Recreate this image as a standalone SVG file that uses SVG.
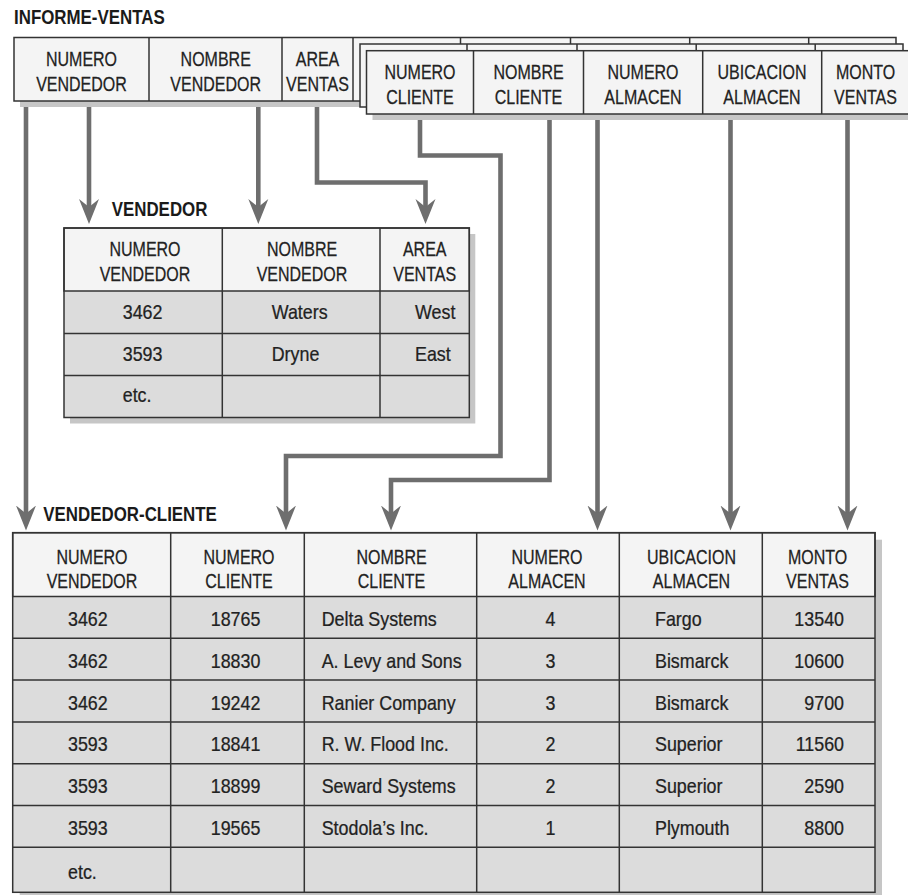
<svg xmlns="http://www.w3.org/2000/svg" width="908" height="895" viewBox="0 0 908 895">
<defs>
<style>
.bg{fill:#ffffff}
.sh{fill:#c6c6c6}
.hf{fill:#f4f4f4;stroke:#333;stroke-width:1.5}
.df{fill:#dcdcdc}
.ln{stroke:#333;stroke-width:1.5;fill:none}
.fr{fill:none;stroke:#333;stroke-width:1.5}
.h{font-family:"Liberation Sans",Arial,sans-serif;font-size:20px;fill:#222;stroke:#222;stroke-width:0.25;text-anchor:middle}
.d{font-family:"Liberation Sans",Arial,sans-serif;font-size:20px;fill:#222;stroke:#222;stroke-width:0.25}
.de{font-family:"Liberation Sans",Arial,sans-serif;font-size:20px;fill:#222;stroke:#222;stroke-width:0.25;text-anchor:end}
.t{font-family:"Liberation Sans",Arial,sans-serif;font-size:20px;font-weight:bold;fill:#1a1a1a}
.cn{fill:none;stroke:#6e6e6e;stroke-width:4.6;stroke-linejoin:miter}
</style>
<marker id="ah" markerUnits="userSpaceOnUse" markerWidth="26" markerHeight="22" viewBox="0 0 26 22" refX="11" refY="11" orient="auto">
<path d="M25,11 L0,1 L8,11 L0,21 Z" fill="#6e6e6e"/>
</marker>
</defs>
<rect class="bg" x="0" y="0" width="908" height="895"/>

<g id="title-informe"><text class="t" transform="translate(14,24) scale(0.845,1)">INFORME-VENTAS</text></g>

<g id="informe-card1">
<rect class="sh" x="20" y="43.5" width="882" height="63.5"/>
<rect class="hf" x="14" y="37.5" width="882" height="63.5"/>
<path class="ln" d="M149,37.5V101M282,37.5V101M353,37.5V101M460.5,37.5V101M570.5,37.5V101M689.7,37.5V101M808.7,37.5V101"/>
<text class="h" transform="translate(81.5,65.7) scale(0.8,1)"><tspan x="0">NUMERO</tspan><tspan x="0" dy="25.6">VENDEDOR</tspan></text>
<text class="h" transform="translate(215.7,65.7) scale(0.8,1)"><tspan x="0">NOMBRE</tspan><tspan x="0" dy="25.6">VENDEDOR</tspan></text>
<text class="h" transform="translate(317.5,65.7) scale(0.8,1)"><tspan x="0">AREA</tspan><tspan x="0" dy="25.6">VENTAS</tspan></text>
</g>

<g id="informe-card2">
<rect class="sh" x="366" y="50" width="543" height="63"/>
<rect class="hf" x="360" y="44" width="543" height="63"/>
<path class="ln" d="M467,44V107M577,44V107M696.2,44V107M815.2,44V107"/>
</g>

<g id="informe-card3">
<rect class="sh" x="372.5" y="56.7" width="542.5" height="63.3"/>
<rect class="hf" x="366.5" y="50.7" width="542.5" height="63.3"/>
<path class="ln" d="M473.5,50.7V114M583.5,50.7V114M702.7,50.7V114M821.7,50.7V114"/>
<text class="h" transform="translate(420,79) scale(0.8,1)"><tspan x="0">NUMERO</tspan><tspan x="0" dy="25.3">CLIENTE</tspan></text>
<text class="h" transform="translate(528.5,79) scale(0.8,1)"><tspan x="0">NOMBRE</tspan><tspan x="0" dy="25.3">CLIENTE</tspan></text>
<text class="h" transform="translate(643,79) scale(0.8,1)"><tspan x="0">NUMERO</tspan><tspan x="0" dy="25.3">ALMACEN</tspan></text>
<text class="h" transform="translate(762,79) scale(0.8,1)"><tspan x="0">UBICACION</tspan><tspan x="0" dy="25.3">ALMACEN</tspan></text>
<text class="h" transform="translate(865.5,79) scale(0.8,1)"><tspan x="0">MONTO</tspan><tspan x="0" dy="25.3">VENTAS</tspan></text>
</g>

<g id="table-vendedor">
<text class="t" transform="translate(111.7,216) scale(0.845,1)">VENDEDOR</text>
<rect class="sh" x="70" y="234" width="405.3" height="189.5"/>
<rect class="df" x="64" y="228" width="405.3" height="189.5"/>
<rect class="hf" x="64" y="228" width="405.3" height="63"/>
<path class="ln" d="M64,333.5H469.3M64,375.5H469.3M222.3,228V417.5M380,228V417.5"/>
<rect class="fr" x="64" y="228" width="405.3" height="189.5"/>
<text class="h" transform="translate(145,255.7) scale(0.8,1)"><tspan x="0">NUMERO</tspan><tspan x="0" dy="25.3">VENDEDOR</tspan></text>
<text class="h" transform="translate(302,255.7) scale(0.8,1)"><tspan x="0">NOMBRE</tspan><tspan x="0" dy="25.3">VENDEDOR</tspan></text>
<text class="h" transform="translate(424.7,255.7) scale(0.8,1)"><tspan x="0">AREA</tspan><tspan x="0" dy="25.3">VENTAS</tspan></text>
<text class="d" transform="translate(122.7,318.5) scale(0.893,1)">3462</text>
<text class="d" transform="translate(271.7,318.5) scale(0.893,1)">Waters</text>
<text class="d" transform="translate(415,318.5) scale(0.893,1)">West</text>
<text class="d" transform="translate(122.7,360.7) scale(0.893,1)">3593</text>
<text class="d" transform="translate(271.7,360.7) scale(0.893,1)">Dryne</text>
<text class="d" transform="translate(415,360.7) scale(0.893,1)">East</text>
<text class="d" transform="translate(122.7,401.7) scale(0.893,1)">etc.</text>
</g>

<g id="table-vendedor-cliente">
<text class="t" transform="translate(43.3,521) scale(0.845,1)">VENDEDOR-CLIENTE</text>
<rect class="sh" x="19.7" y="539.7" width="862.3" height="359.6"/>
<rect class="df" x="12.7" y="532.7" width="862.3" height="359.6"/>
<rect class="hf" x="12.7" y="532.7" width="862.3" height="63.8"/>
<path class="ln" d="M12.7,638.3H875M12.7,680.1H875M12.7,721.9H875M12.7,763.7H875M12.7,805.5H875M12.7,847.3H875M170.7,532.7V892.3M304.3,532.7V892.3M476.7,532.7V892.3M619.3,532.7V892.3M762.3,532.7V892.3"/>
<rect class="fr" x="12.7" y="532.7" width="862.3" height="359.6"/>
<text class="h" transform="translate(92,564) scale(0.8,1)"><tspan x="0">NUMERO</tspan><tspan x="0" dy="23.7">VENDEDOR</tspan></text>
<text class="h" transform="translate(239,564) scale(0.8,1)"><tspan x="0">NUMERO</tspan><tspan x="0" dy="23.7">CLIENTE</tspan></text>
<text class="h" transform="translate(391.5,564) scale(0.8,1)"><tspan x="0">NOMBRE</tspan><tspan x="0" dy="23.7">CLIENTE</tspan></text>
<text class="h" transform="translate(547,564) scale(0.8,1)"><tspan x="0">NUMERO</tspan><tspan x="0" dy="23.7">ALMACEN</tspan></text>
<text class="h" transform="translate(691.5,564) scale(0.8,1)"><tspan x="0">UBICACION</tspan><tspan x="0" dy="23.7">ALMACEN</tspan></text>
<text class="h" transform="translate(817.5,564) scale(0.8,1)"><tspan x="0">MONTO</tspan><tspan x="0" dy="23.7">VENTAS</tspan></text>

<text class="d" transform="translate(68,626) scale(0.893,1)">3462</text>
<text class="d" transform="translate(210.7,626) scale(0.893,1)">18765</text>
<text class="d" transform="translate(321.7,626) scale(0.893,1)">Delta Systems</text>
<text class="d" transform="translate(545.5,626) scale(0.893,1)">4</text>
<text class="d" transform="translate(655,626) scale(0.893,1)">Fargo</text>
<text class="de" transform="translate(844,626) scale(0.893,1)">13540</text>

<text class="d" transform="translate(68,667.8) scale(0.893,1)">3462</text>
<text class="d" transform="translate(210.7,667.8) scale(0.893,1)">18830</text>
<text class="d" transform="translate(321.7,667.8) scale(0.893,1)">A. Levy and Sons</text>
<text class="d" transform="translate(545.5,667.8) scale(0.893,1)">3</text>
<text class="d" transform="translate(655,667.8) scale(0.893,1)">Bismarck</text>
<text class="de" transform="translate(844,667.8) scale(0.893,1)">10600</text>

<text class="d" transform="translate(68,709.6) scale(0.893,1)">3462</text>
<text class="d" transform="translate(210.7,709.6) scale(0.893,1)">19242</text>
<text class="d" transform="translate(321.7,709.6) scale(0.893,1)">Ranier Company</text>
<text class="d" transform="translate(545.5,709.6) scale(0.893,1)">3</text>
<text class="d" transform="translate(655,709.6) scale(0.893,1)">Bismarck</text>
<text class="de" transform="translate(844,709.6) scale(0.893,1)">9700</text>

<text class="d" transform="translate(68,751.4) scale(0.893,1)">3593</text>
<text class="d" transform="translate(210.7,751.4) scale(0.893,1)">18841</text>
<text class="d" transform="translate(321.7,751.4) scale(0.893,1)">R. W. Flood Inc.</text>
<text class="d" transform="translate(545.5,751.4) scale(0.893,1)">2</text>
<text class="d" transform="translate(655,751.4) scale(0.893,1)">Superior</text>
<text class="de" transform="translate(844,751.4) scale(0.893,1)">11560</text>

<text class="d" transform="translate(68,793.2) scale(0.893,1)">3593</text>
<text class="d" transform="translate(210.7,793.2) scale(0.893,1)">18899</text>
<text class="d" transform="translate(321.7,793.2) scale(0.893,1)">Seward Systems</text>
<text class="d" transform="translate(545.5,793.2) scale(0.893,1)">2</text>
<text class="d" transform="translate(655,793.2) scale(0.893,1)">Superior</text>
<text class="de" transform="translate(844,793.2) scale(0.893,1)">2590</text>

<text class="d" transform="translate(68,835) scale(0.893,1)">3593</text>
<text class="d" transform="translate(210.7,835) scale(0.893,1)">19565</text>
<text class="d" transform="translate(321.7,835) scale(0.893,1)">Stodola’s Inc.</text>
<text class="d" transform="translate(545.5,835) scale(0.893,1)">1</text>
<text class="d" transform="translate(655,835) scale(0.893,1)">Plymouth</text>
<text class="de" transform="translate(844,835) scale(0.893,1)">8800</text>

<text class="d" transform="translate(68,879) scale(0.893,1)">etc.</text>
</g>

<g id="connectors">
<path class="cn" marker-end="url(#ah)" d="M26,107V516.5"/>
<path class="cn" marker-end="url(#ah)" d="M89,107V210"/>
<path class="cn" marker-end="url(#ah)" d="M258.3,107V210"/>
<path class="cn" marker-end="url(#ah)" d="M317,107V182.5H425.5V210"/>
<path class="cn" marker-end="url(#ah)" d="M420,120V155.5H500.5V456H286V516.5"/>
<path class="cn" marker-end="url(#ah)" d="M549.5,120V480H391V516.5"/>
<path class="cn" marker-end="url(#ah)" d="M597.5,120V516.5"/>
<path class="cn" marker-end="url(#ah)" d="M730.5,120V516.5"/>
<path class="cn" marker-end="url(#ah)" d="M847.5,120V516.5"/>
</g>
</svg>
